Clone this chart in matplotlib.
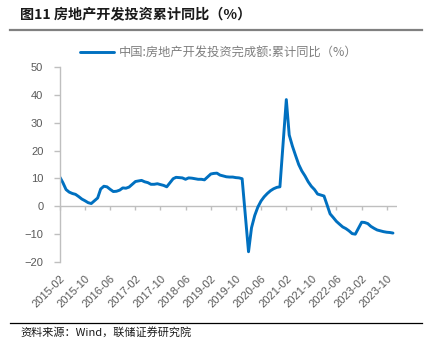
import pandas as pd
import matplotlib
matplotlib.use("Agg")
import matplotlib.pyplot as plt
import matplotlib.dates as mdates

plt.rcParams['font.family'] = ['Liberation Sans', 'Noto Sans CJK SC', 'DejaVu Sans']
plt.rcParams['axes.unicode_minus'] = True

# cumulative YoY, Feb..Dec for each year (Jan not published)
years = [2015, 2016, 2017, 2018, 2019, 2020, 2021, 2022, 2023]
v2015 = [10.4, 8.5, 6.0, 5.1, 4.6, 4.3, 3.5, 2.6, 2.0, 1.3, 1.0]
v2016 = [3.0, 6.2, 7.2, 7.0, 6.1, 5.3, 5.4, 5.8, 6.6, 6.5, 6.9]
v2017 = [8.9, 9.1, 9.3, 8.8, 8.5, 7.9, 7.9, 8.1, 7.8, 7.5, 7.0]
v2018 = [9.9, 10.4, 10.3, 10.2, 9.7, 10.2, 10.1, 9.9, 9.7, 9.7, 9.5]
v2019 = [11.6, 11.8, 11.9, 11.2, 10.9, 10.6, 10.5, 10.5, 10.3, 10.2, 9.9]
v2020 = [-16.3, -7.7, -3.3, -0.3, 1.9, 3.4, 4.6, 5.6, 6.3, 6.8, 7.0]
v2021 = [38.3, 25.6, 21.6, 18.3, 15.0, 12.7, 10.9, 8.8, 7.2, 6.0, 4.4]
v2022 = [3.7, 0.7, -2.7, -4.0, -5.4, -6.4, -7.4, -8.0, -8.8, -9.8, -10.0]
v2023 = [-5.7, -5.8, -6.2, -7.2, -7.9, -8.5, -8.8, -9.1, -9.3, -9.4, -9.6]
values_by_year = [v2015, v2016, v2017, v2018, v2019, v2020, v2021, v2022, v2023]

tick_labels = ['2015-02', '2015-10', '2016-06', '2017-02', '2017-10', '2018-06',
               '2019-02', '2019-10', '2020-06', '2021-02', '2021-10', '2022-06',
               '2023-02', '2023-10']
y_ticks = [-20, -10, 0, 10, 20, 30, 40, 50]

dates, values = [], []
for yr, vals in zip(years, values_by_year):
    for m, v in zip(range(2, 13), vals):
        dates.append(pd.Timestamp(yr, m, 1))
        values.append(v)

fig = plt.figure(figsize=(4.3, 3.48), dpi=100)
ax = fig.add_axes([0.1395, 0.247, 0.784, 0.5605])

blue = '#0070C0'
grey = '#BFBFBF'
ax.plot(dates, values, color=blue, lw=2.1, solid_capstyle='round',
        solid_joinstyle='round', label='中国:房地产开发投资完成额:累计同比（%）')

ax.set_ylim(-20, 50)
ax.set_xlim(pd.Timestamp(2015, 2, 1), pd.Timestamp(2024, 1, 10))
ax.set_yticks(y_ticks)
ax.tick_params(axis='y', colors=grey, labelcolor='#595959', labelsize=8,
               length=4, width=1, direction='out', pad=8)

tick_pos = [mdates.date2num(pd.Timestamp(t + '-01')) for t in tick_labels]
ax.set_xticks(tick_pos)
ax.set_xticklabels(tick_labels, rotation=45, ha='right', rotation_mode='anchor',
                   fontsize=8, color='#595959')
ax.tick_params(axis='x', length=0, pad=8)

for s in ['top', 'right', 'bottom']:
    ax.spines[s].set_visible(False)
ax.spines['left'].set_color(grey)
ax.spines['left'].set_linewidth(1)

# zero line with small tick marks
ax.axhline(0, color=grey, lw=1, zorder=1)
y0, y1 = ax.get_ylim()
sec = ax.secondary_xaxis((0 - y0) / (y1 - y0))
sec.set_xticks(tick_pos)
sec.set_xticklabels([])
sec.spines['bottom'].set_visible(False)
sec.tick_params(axis='x', colors=grey, length=3, width=1, direction='out')

leg = ax.legend(loc='lower center', bbox_to_anchor=(0.47, 1.0), frameon=False,
                handlelength=2.8, handletextpad=0.4, borderaxespad=0.2,
                prop={'family': ['Noto Sans CJK SC'], 'size': 8.8})
for t in leg.get_texts():
    t.set_color('#7F7F7F')

fig.text(0.047, 0.955, '图11 房地产开发投资累计同比（%）', fontsize=10.2, fontweight='bold',
         family=['Noto Sans CJK SC'], va='center', ha='left', color='#1a1a1a')
fig.add_artist(plt.Line2D([0.023, 0.982], [0.914, 0.914], color='#808080', lw=1.6))
fig.add_artist(plt.Line2D([0.023, 0.982], [0.073, 0.073], color='#000000', lw=0.9))
fig.text(0.047, 0.045, '资料来源：Wind，联储证券研究院', fontsize=8,
         family=['Noto Sans CJK SC', 'Liberation Sans'], va='center', ha='left', color='#1a1a1a')

fig.savefig('out.png', dpi=100)
